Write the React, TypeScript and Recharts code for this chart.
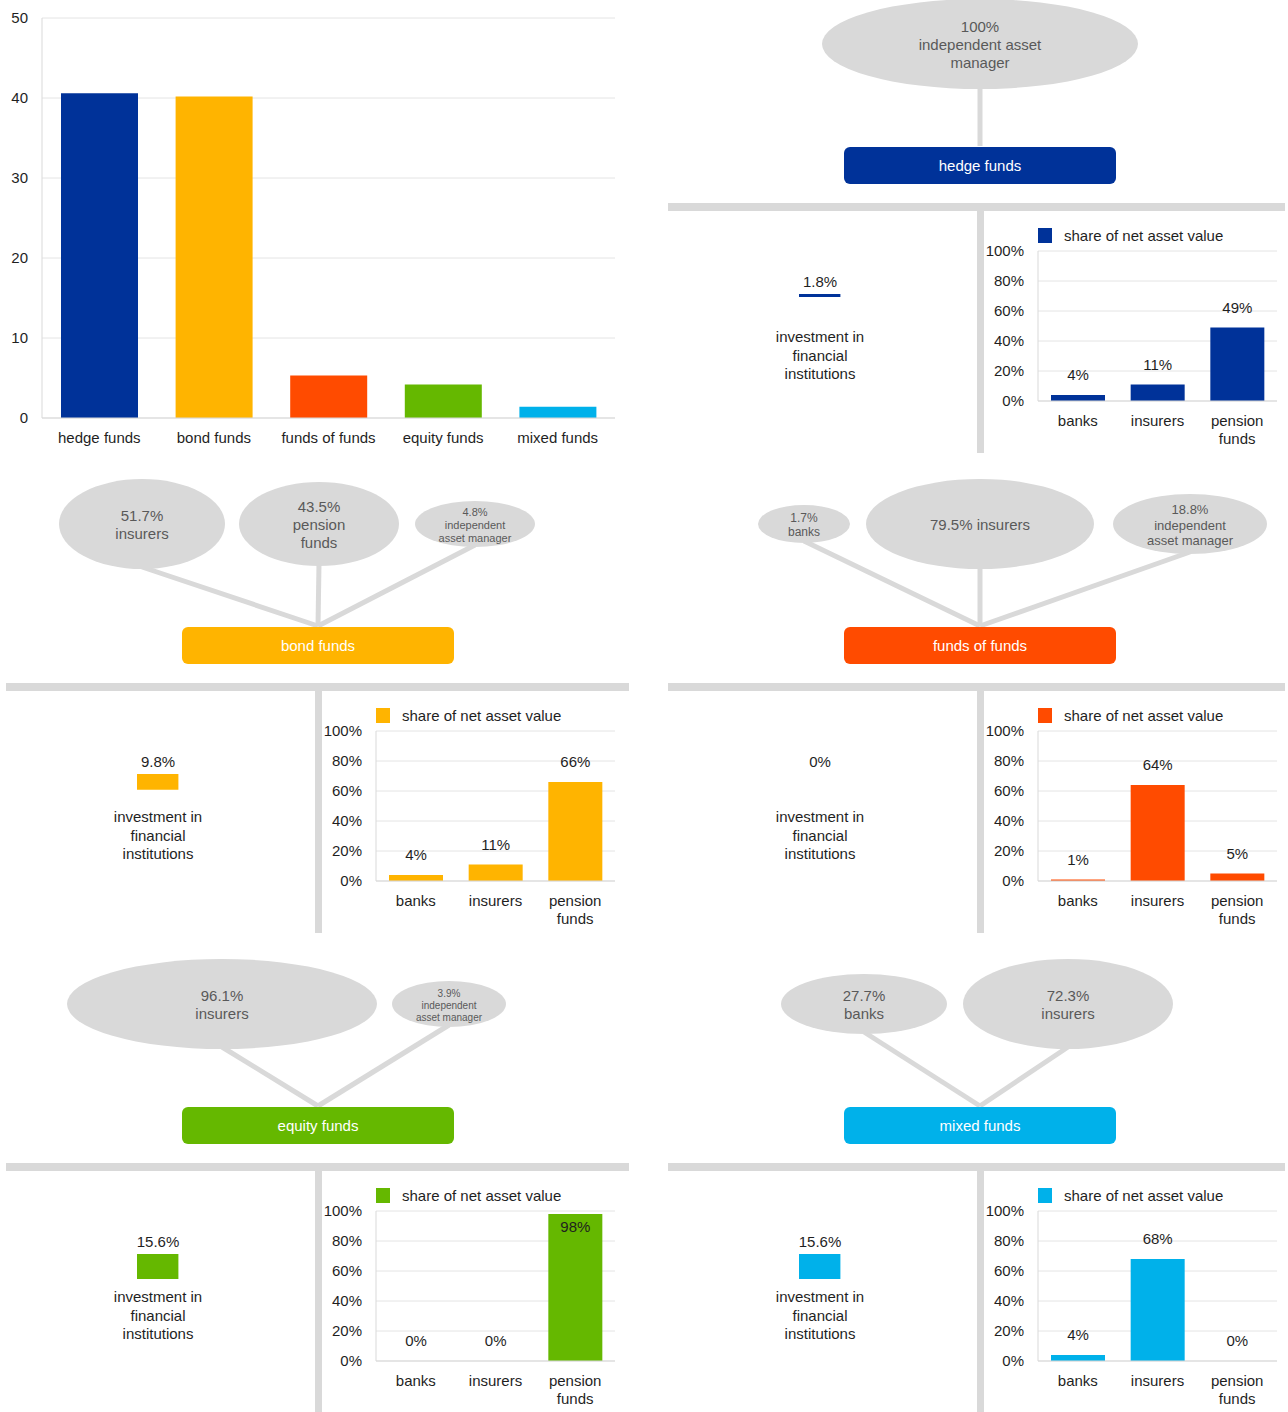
import React from 'react';
import { BarChart, Bar, XAxis, YAxis, CartesianGrid, Cell } from 'recharts';

const FONT = '"Liberation Sans", Arial, Helvetica, sans-serif';
const GREY = '#d9d9d9';
const GRID = '#e4e4e4';
const INK = '#1f1f1f';
const BUBBLE_INK = '#595959';

// overview: volume by fund type
const FUND_TYPES = ['hedge funds', 'bond funds', 'funds of funds', 'equity funds', 'mixed funds'];
const FUND_VOLUMES = [40.6, 40.2, 5.3, 4.2, 1.4];
const FUND_COLORS = ['#003299', '#ffb400', '#ff4b00', '#65b800', '#00b1ea'];
const VOLUME_TICKS = [0, 10, 20, 30, 40, 50];

// who manages / holds the funds
const HOLDERS_HEDGE = ['independent asset manager'];
const HOLDER_SHARES_HEDGE = [100];
const HOLDERS_BOND = ['insurers', 'pension funds', 'independent asset manager'];
const HOLDER_SHARES_BOND = [51.7, 43.5, 4.8];
const HOLDERS_FOF = ['banks', 'insurers', 'independent asset manager'];
const HOLDER_SHARES_FOF = [1.7, 79.5, 18.8];
const HOLDERS_EQUITY = ['insurers', 'independent asset manager'];
const HOLDER_SHARES_EQUITY = [96.1, 3.9];
const HOLDERS_MIXED = ['banks', 'insurers'];
const HOLDER_SHARES_MIXED = [27.7, 72.3];

// investment in financial institutions (%), same order as FUND_TYPES
const FIN_INVESTMENT = [1.8, 9.8, 0, 15.6, 15.6];

// share of net asset value by investor sector
const SECTORS = ['banks', 'insurers', 'pension funds'];
const NAV_HEDGE = [4, 11, 49];
const NAV_BOND = [4, 11, 66];
const NAV_FOF = [1, 64, 5];
const NAV_EQUITY = [0, 0, 98];
const NAV_MIXED = [4, 68, 0];
const PCT_TICKS = [0, 20, 40, 60, 80, 100];

type Bubble = { dx: number; rx: number; ry: number; fs: number; words?: number[]; inline?: boolean };

const PANELS: {
  fund: number; cx: number; base: number; holders: string[]; shares: number[]; nav: number[]; bubbles: Bubble[];
}[] = [
  {
    fund: 0, cx: 980, base: 207, holders: HOLDERS_HEDGE, shares: HOLDER_SHARES_HEDGE, nav: NAV_HEDGE,
    bubbles: [{ dx: 0, rx: 158, ry: 45, fs: 15, words: [2, 1] }],
  },
  {
    fund: 1, cx: 318, base: 687, holders: HOLDERS_BOND, shares: HOLDER_SHARES_BOND, nav: NAV_BOND,
    bubbles: [
      { dx: -176, rx: 83, ry: 45, fs: 15, words: [1] },
      { dx: 1, rx: 80, ry: 42, fs: 15, words: [1, 1] },
      { dx: 157, rx: 60, ry: 23, fs: 11, words: [1, 2] },
    ],
  },
  {
    fund: 2, cx: 980, base: 687, holders: HOLDERS_FOF, shares: HOLDER_SHARES_FOF, nav: NAV_FOF,
    bubbles: [
      { dx: -176, rx: 46, ry: 19, fs: 12, words: [1] },
      { dx: 0, rx: 114, ry: 45, fs: 15, inline: true },
      { dx: 210, rx: 77, ry: 30, fs: 13, words: [1, 2] },
    ],
  },
  {
    fund: 3, cx: 318, base: 1167, holders: HOLDERS_EQUITY, shares: HOLDER_SHARES_EQUITY, nav: NAV_EQUITY,
    bubbles: [
      { dx: -96, rx: 155, ry: 45, fs: 15, words: [1] },
      { dx: 131, rx: 57, ry: 23, fs: 10, words: [1, 2] },
    ],
  },
  {
    fund: 4, cx: 980, base: 1167, holders: HOLDERS_MIXED, shares: HOLDER_SHARES_MIXED, nav: NAV_MIXED,
    bubbles: [
      { dx: -116, rx: 83, ry: 30, fs: 15, words: [1] },
      { dx: 88, rx: 105, ry: 45, fs: 15, words: [1] },
    ],
  },
];

function wrapName(name: string, words?: number[]) {
  if (!words) return [name];
  const w = name.split(' ');
  const out: string[] = [];
  let k = 0;
  for (const n of words) {
    out.push(w.slice(k, k + n).join(' '));
    k += n;
  }
  return out;
}

const OverviewTick = (props: any) => {
  const { x, y, payload } = props;
  return (
    <text x={x} y={y + 13} textAnchor="middle" fontSize={15} fill={INK} fontFamily={FONT}>
      {payload.value}
    </text>
  );
};

const SectorTick = (props: any) => {
  const { x, y, payload } = props;
  const words = String(payload.value).split(' ');
  return (
    <text textAnchor="middle" fontSize={15} fill={INK} fontFamily={FONT}>
      {words.map((w, i) => (
        <tspan key={i} x={x} y={y + 14 + i * 18}>{w}</tspan>
      ))}
    </text>
  );
};

// bar plus its value label; labels that would run into the legend go inside the bar
const LabelledBar = (props: any) => {
  const { x, y, width, height, fill, payload } = props;
  const value = payload?.share ?? 0;
  const inside = y - 20 < 10;
  return (
    <g>
      {height > 0.2 && <rect x={x} y={y} width={width} height={height} fill={fill} />}
      <text
        x={x + width / 2}
        y={inside ? y + 18 : y - 15}
        textAnchor="middle"
        fontSize={15}
        fill={INK}
        fontFamily={FONT}
      >
        {`${value}%`}
      </text>
    </g>
  );
};

function NavChart({ values, color, left, top }: { values: number[]; color: string; left: number; top: number }) {
  const data = SECTORS.map((s, k) => ({ sector: s, share: values[k] }));
  return (
    <div style={{ position: 'absolute', left, top }}>
      <BarChart width={300} height={210} data={data} margin={{ top: 10, right: 3, left: 0, bottom: 0 }}>
        <CartesianGrid vertical={false} stroke={GRID} />
        <XAxis
          dataKey="sector"
          height={50}
          interval={0}
          tickLine={false}
          axisLine={{ stroke: GREY }}
          tickMargin={5}
          tick={<SectorTick />}
        />
        <YAxis
          type="number"
          domain={[0, 100]}
          ticks={PCT_TICKS}
          width={58}
          tickLine={false}
          axisLine={{ stroke: GREY }}
          tickMargin={8}
          tickFormatter={(v: number) => `${v}%`}
          tick={{ fontSize: 15, fill: INK, fontFamily: FONT }}
        />
        <Bar
          dataKey="share"
          fill={color}
          barSize={54}
          minPointSize={0.01}
          isAnimationActive={false}
          shape={(p: any) => <LabelledBar {...p} />}
        />
      </BarChart>
    </div>
  );
}

function InvestChart({ value, color, left, top }: { value: number; color: string; left: number; top: number }) {
  const data = [{ item: 'financial institutions', value }];
  return (
    <div style={{ position: 'absolute', left, top }}>
      <BarChart width={46} height={160} data={data} margin={{ top: 0, right: 0, left: 0, bottom: 0 }} barCategoryGap={0}>
        <XAxis dataKey="item" hide />
        <YAxis type="number" domain={[0, 100]} reversed hide />
        <Bar dataKey="value" fill={color} barSize={46} isAnimationActive={false} />
      </BarChart>
    </div>
  );
}

function PanelShapes({ p }: { p: (typeof PANELS)[number] }) {
  const { cx, base } = p;
  const color = FUND_COLORS[p.fund];
  const by = base - 163;
  const boxTop = base - 60;
  const ruleLeft = cx - 312;
  const ruleRight = Math.min(cx + 311, 1285);
  return (
    <g fontFamily={FONT}>
      {/* connectors */}
      {p.bubbles.map((b, k) => (
        <line
          key={`c${k}`}
          x1={cx + b.dx}
          y1={by + b.ry - 2}
          x2={cx}
          y2={boxTop - 1}
          stroke={GREY}
          strokeWidth={5}
        />
      ))}
      {/* bubbles */}
      {p.bubbles.map((b, k) => {
        const bx = cx + b.dx;
        const share = `${p.shares[k]}%`;
        const lines = b.inline ? [`${share} ${p.holders[k]}`] : [share, ...wrapName(p.holders[k], b.words)];
        const lh = b.fs * 1.2;
        return (
          <g key={`b${k}`}>
            <ellipse cx={bx} cy={by} rx={b.rx} ry={b.ry} fill={GREY} />
            {lines.map((t, j) => (
              <text
                key={j}
                x={bx}
                y={by + 1 + (j - (lines.length - 1) / 2) * lh + b.fs * 0.35}
                textAnchor="middle"
                fontSize={b.fs}
                fill={BUBBLE_INK}
              >
                {t}
              </text>
            ))}
          </g>
        );
      })}
      {/* fund box */}
      <rect x={cx - 136} y={boxTop} width={272} height={37} rx={6} fill={color} />
      <text x={cx} y={boxTop + 24} textAnchor="middle" fontSize={15} fill="#fff">
        {FUND_TYPES[p.fund]}
      </text>
      {/* divider bars */}
      <rect x={ruleLeft} y={base - 4} width={ruleRight - ruleLeft} height={8} fill={GREY} />
      <rect x={cx - 3} y={base + 4} width={7} height={242} fill={GREY} />
      {/* investment in financial institutions */}
      <text x={cx - 160} y={base + 80} textAnchor="middle" fontSize={15} fill={INK}>
        {`${FIN_INVESTMENT[p.fund]}%`}
      </text>
      {['investment in', 'financial', 'institutions'].map((t, j) => (
        <text key={j} x={cx - 160} y={base + 135 + j * 18.5} textAnchor="middle" fontSize={15} fill={INK}>
          {t}
        </text>
      ))}
      {/* legend */}
      <rect x={cx + 58} y={base + 21} width={14} height={15} fill={color} />
      <text x={cx + 84} y={base + 34} fontSize={15} fill={INK}>
        share of net asset value
      </text>
    </g>
  );
}

export default function App() {
  const overview = FUND_TYPES.map((name, i) => ({ name, volume: FUND_VOLUMES[i] }));
  return (
    <div
      style={{
        position: 'absolute',
        left: 0,
        top: 0,
        width: 1288,
        height: 1412,
        background: '#fff',
        fontFamily: FONT,
        overflow: 'hidden',
      }}
    >
      <svg width={1288} height={1412} style={{ position: 'absolute', left: 0, top: 0 }}>
        {PANELS.map((p) => (
          <PanelShapes key={p.fund} p={p} />
        ))}
      </svg>

      <div style={{ position: 'absolute', left: 0, top: 0 }}>
        <BarChart width={620} height={460} data={overview} margin={{ top: 18, right: 5, left: 0, bottom: 0 }}>
          <CartesianGrid vertical={false} stroke={GRID} />
          <XAxis
            dataKey="name"
            height={42}
            interval={0}
            tickLine={false}
            axisLine={{ stroke: GREY }}
            tickMargin={6}
            tick={<OverviewTick />}
          />
          <YAxis
            type="number"
            domain={[0, 50]}
            ticks={VOLUME_TICKS}
            width={42}
            tickLine={false}
            axisLine={{ stroke: GREY }}
            tickMargin={8}
            tick={{ fontSize: 15, fill: INK, fontFamily: FONT }}
          />
          <Bar dataKey="volume" barSize={77} isAnimationActive={false}>
            {overview.map((d, i) => (
              <Cell key={d.name} fill={FUND_COLORS[i]} />
            ))}
          </Bar>
        </BarChart>
      </div>

      {PANELS.map((p) => (
        <React.Fragment key={p.fund}>
          <InvestChart value={FIN_INVESTMENT[p.fund]} color={FUND_COLORS[p.fund]} left={p.cx - 183} top={p.base + 87} />
          <NavChart values={p.nav} color={FUND_COLORS[p.fund]} left={p.cx} top={p.base + 34} />
        </React.Fragment>
      ))}
    </div>
  );
}
